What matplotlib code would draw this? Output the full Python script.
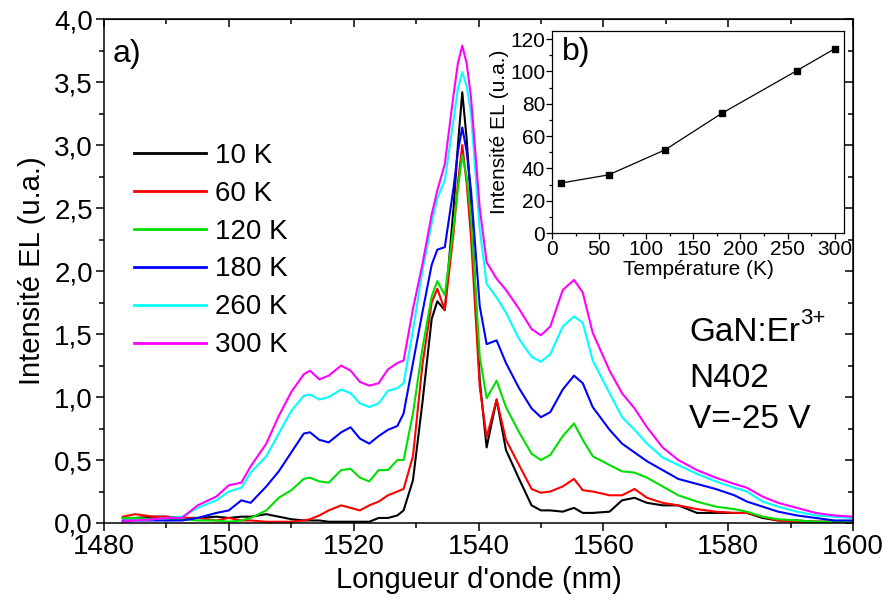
"""Spectres EL GaN:Er3+ (N402) en fonction de la temperature + insert intensite integree"""
import matplotlib
matplotlib.use('Agg')
from matplotlib import pyplot as plt
from matplotlib.ticker import MultipleLocator, FuncFormatter

plt.rcParams['font.family'] = ['Liberation Sans', 'DejaVu Sans']

# longueur d'onde (nm), grille commune aux six spectres
wavelength = [1483, 1485, 1488, 1490, 1492.5, 1495, 1498, 1500, 1502, 1503.5,
              1506, 1508, 1510, 1512, 1513, 1514.5, 1516, 1518, 1519.5, 1521,
              1522.5, 1524, 1525.5, 1527, 1528, 1529.5, 1531, 1532.5, 1533.4, 1534.6,
              1536, 1536.7, 1537.4, 1538.1, 1538.8, 1540.2, 1541.3, 1542.9, 1544.4, 1546.5,
              1548.5, 1550, 1551.5, 1553.5, 1555.3, 1556.7, 1558.3, 1561, 1563, 1565,
              1567, 1569.5, 1572, 1575, 1578, 1581, 1583, 1585.5, 1588, 1591,
              1594, 1597, 1600]

el_10K = [0.04, 0.04, 0.05, 0.05, 0.04, 0.04, 0.05, 0.04, 0.05, 0.05,
          0.07, 0.05, 0.03, 0.02, 0.02, 0.02, 0.01, 0.01, 0.01, 0.01,
          0.01, 0.04, 0.04, 0.06, 0.10, 0.34, 0.95, 1.62, 1.76, 1.69,
          2.50, 3.00, 3.42, 3.05, 2.54, 1.13, 0.60, 0.98, 0.58, 0.35,
          0.14, 0.10, 0.10, 0.09, 0.12, 0.08, 0.08, 0.09, 0.18, 0.20,
          0.16, 0.14, 0.14, 0.08, 0.08, 0.08, 0.08, 0.04, 0.02, 0.02,
          0.01, 0.01, 0.01]
el_60K = [0.05, 0.07, 0.05, 0.05, 0.04, 0.04, 0.02, 0.04, 0.02, 0.02,
          0.01, 0.01, 0.01, 0.02, 0.03, 0.06, 0.10, 0.14, 0.12, 0.10,
          0.14, 0.17, 0.22, 0.25, 0.27, 0.53, 1.25, 1.75, 1.86, 1.69,
          2.30, 2.70, 3.00, 2.70, 2.27, 1.08, 0.68, 0.98, 0.66, 0.46,
          0.27, 0.24, 0.25, 0.29, 0.35, 0.26, 0.25, 0.22, 0.22, 0.27,
          0.20, 0.16, 0.14, 0.11, 0.09, 0.08, 0.08, 0.05, 0.02, 0.01,
          0.01, 0.01, 0.01]
el_120K = [0.04, 0.04, 0.03, 0.02, 0.03, 0.02, 0.02, 0.01, 0.02, 0.04,
           0.10, 0.20, 0.26, 0.35, 0.36, 0.33, 0.32, 0.42, 0.43, 0.36,
           0.33, 0.42, 0.42, 0.50, 0.50, 0.87, 1.38, 1.80, 1.92, 1.81,
           2.35, 2.65, 2.92, 2.75, 2.43, 1.32, 0.99, 1.13, 0.92, 0.72,
           0.55, 0.50, 0.54, 0.69, 0.79, 0.66, 0.53, 0.46, 0.41, 0.40,
           0.36, 0.29, 0.22, 0.17, 0.13, 0.11, 0.09, 0.05, 0.03, 0.02,
           0.01, 0.01, 0.01]
el_180K = [0.02, 0.02, 0.02, 0.02, 0.02, 0.04, 0.08, 0.10, 0.18, 0.16,
           0.29, 0.41, 0.56, 0.71, 0.72, 0.66, 0.64, 0.72, 0.76, 0.67,
           0.63, 0.69, 0.74, 0.77, 0.87, 1.27, 1.67, 2.05, 2.17, 2.19,
           2.66, 2.95, 3.14, 2.95, 2.64, 1.72, 1.42, 1.45, 1.27, 1.07,
           0.91, 0.84, 0.88, 1.06, 1.17, 1.11, 0.92, 0.74, 0.63, 0.56,
           0.49, 0.42, 0.35, 0.31, 0.27, 0.22, 0.17, 0.13, 0.09, 0.06,
           0.04, 0.02, 0.02]
el_260K = [0.01, 0.02, 0.03, 0.04, 0.05, 0.12, 0.18, 0.25, 0.28, 0.40,
           0.53, 0.71, 0.89, 1.01, 1.02, 0.98, 1.00, 1.06, 1.03, 0.95,
           0.92, 0.95, 1.05, 1.07, 1.11, 1.53, 2.00, 2.38, 2.58, 2.72,
           3.20, 3.45, 3.58, 3.47, 3.25, 2.33, 1.90, 1.79, 1.67, 1.46,
           1.32, 1.28, 1.34, 1.56, 1.64, 1.59, 1.29, 1.03, 0.84, 0.74,
           0.63, 0.52, 0.46, 0.39, 0.33, 0.28, 0.25, 0.17, 0.13, 0.09,
           0.06, 0.05, 0.04]
el_300K = [0.01, 0.02, 0.03, 0.04, 0.04, 0.14, 0.21, 0.30, 0.32, 0.45,
           0.63, 0.85, 1.04, 1.18, 1.21, 1.14, 1.17, 1.25, 1.21, 1.12,
           1.09, 1.11, 1.22, 1.27, 1.29, 1.70, 2.05, 2.45, 2.64, 2.85,
           3.40, 3.65, 3.79, 3.65, 3.38, 2.50, 2.07, 1.94, 1.85, 1.70,
           1.54, 1.49, 1.56, 1.85, 1.93, 1.83, 1.51, 1.21, 1.03, 0.91,
           0.76, 0.60, 0.50, 0.42, 0.36, 0.31, 0.28, 0.21, 0.16, 0.12,
           0.08, 0.06, 0.05]

series_labels = ['10 K', '60 K', '120 K', '180 K', '260 K', '300 K']
series_colors = ['black', 'red', '#00e000', 'blue', 'cyan', 'magenta']

# insert b)
temperature = [10, 60, 120, 180, 260, 300]
integrated = [31, 36, 51.5, 74, 100.5, 114]


def comma(v, pos):
    return f'{v:.1f}'.replace('.', ',')


fig = plt.figure(figsize=(8.89, 6.07), dpi=100)
ax = fig.add_axes([0.117, 0.1384, 0.8425, 0.830])

spectra = [el_10K, el_60K, el_120K, el_180K, el_260K, el_300K]
for vals, lab, col in zip(spectra, series_labels, series_colors):
    ax.plot(wavelength, vals, color=col, linewidth=1.5, label=lab)

ax.set_xlim(1480, 1600)
ax.set_ylim(0, 4.0)
ax.xaxis.set_major_locator(MultipleLocator(20))
ax.xaxis.set_minor_locator(MultipleLocator(10))
ax.yaxis.set_major_locator(MultipleLocator(0.5))
ax.yaxis.set_minor_locator(MultipleLocator(0.25))
ax.yaxis.set_major_formatter(FuncFormatter(comma))
for s in ax.spines.values():
    s.set_linewidth(1.1)
ax.tick_params(which='both', direction='out', width=1.1, labelsize=20, pad=2)
ax.tick_params(which='major', length=6)
ax.tick_params(which='minor', length=3.5)

# ticks miroir (haut/droite) vers l'interieur
axt = ax.secondary_xaxis('top')
axt.xaxis.set_major_locator(MultipleLocator(20))
axt.xaxis.set_minor_locator(MultipleLocator(10))
axt.tick_params(which='both', direction='in', width=1.1, labeltop=False)
axt.tick_params(which='major', length=6)
axt.tick_params(which='minor', length=3.5)
axr = ax.secondary_yaxis('right')
axr.yaxis.set_major_locator(MultipleLocator(0.5))
axr.yaxis.set_minor_locator(MultipleLocator(0.25))
axr.tick_params(which='both', direction='in', width=1.1, labelright=False)
axr.tick_params(which='major', length=6)
axr.tick_params(which='minor', length=3.5)

ax.set_xlabel("Longueur d'onde (nm)", fontsize=21, labelpad=4)
ax.set_ylabel('Intensité EL (u.a.)', fontsize=21, labelpad=6)

ax.text(0.012, 0.93, 'a)', transform=ax.transAxes, fontsize=23, va='center', ha='left')
t_gan = ax.text(1573.8, 1.51, 'GaN:Er', fontsize=24, va='center', ha='left')
ax.annotate('3+', xy=(1.0, 0.95), xycoords=t_gan, fontsize=16, va='center', ha='left')
ax.text(1573.8, 1.15, 'N402', fontsize=24, va='center', ha='left')
ax.text(1573.8, 0.82, 'V=-25 V', fontsize=24, va='center', ha='left')

leg = ax.legend(loc='upper left', bbox_to_anchor=(0.04, 0.755), frameon=False,
                fontsize=20, handlelength=2.6, handletextpad=0.3, labelspacing=0.43,
                borderpad=0, borderaxespad=0)
for h in leg.get_lines():
    h.set_linewidth(2)

# insert
ins = fig.add_axes([0.621, 0.616, 0.3285, 0.333])
ins.plot(temperature, integrated, color='black', linewidth=0.9, marker='s', markersize=5)
ins.set_xlim(0, 310)
ins.set_ylim(0, 125)
ins.xaxis.set_major_locator(MultipleLocator(50))
ins.xaxis.set_minor_locator(MultipleLocator(25))
ins.yaxis.set_major_locator(MultipleLocator(20))
ins.yaxis.set_minor_locator(MultipleLocator(10))
ins.tick_params(which='both', direction='out', width=0.9, labelsize=15, pad=1)
ins.tick_params(which='major', length=4)
ins.tick_params(which='minor', length=2.5)
for s in ins.spines.values():
    s.set_linewidth(0.9)
ins.set_xlabel('Température (K)', fontsize=15, labelpad=1)
ins.set_ylabel('Intensité EL (u.a.)', fontsize=15, labelpad=1)
ins.text(0.034, 0.896, 'b)', transform=ins.transAxes, fontsize=23, va='center', ha='left')

fig.savefig('out.png', dpi=100)
